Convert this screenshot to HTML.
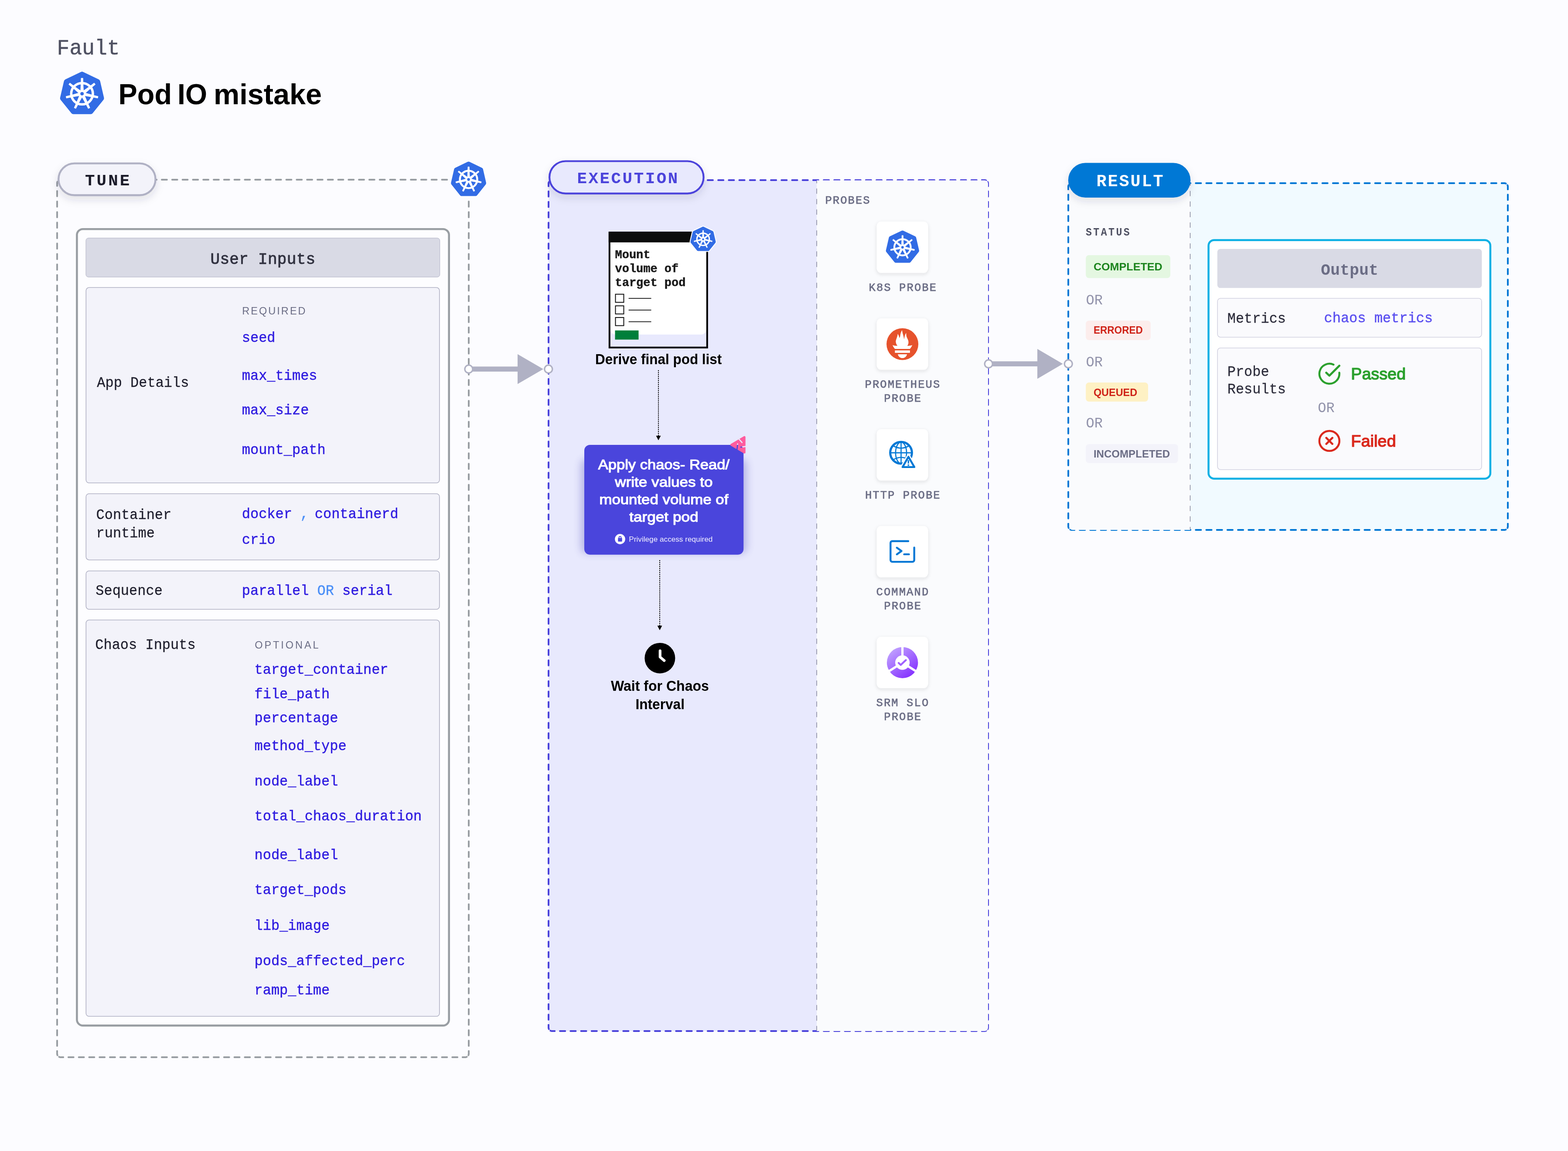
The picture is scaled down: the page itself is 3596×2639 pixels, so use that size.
<!DOCTYPE html>
<html lang="en"><head><meta charset="utf-8"><title>Pod IO mistake</title>
<style>
html,body{margin:0;padding:0;background:#fcfcff;}
body{width:3596px;height:2639px;overflow:hidden;position:relative}
svg{display:block;position:absolute;left:0;top:0;will-change:transform}
.m{font-family:"Liberation Mono","DejaVu Sans Mono",monospace}
.s{font-family:"Liberation Sans","DejaVu Sans",sans-serif}
text{white-space:pre}
</style></head>
<body>
<svg width="3596" height="2639" viewBox="0 0 3596 2639">
<defs>
<symbol id="k8s" viewBox="-56 -57 112 112" preserveAspectRatio="none" overflow="visible"><polygon points="0.00,-44.90 35.10,-27.99 43.77,9.99 19.48,40.45 -19.48,40.45 -43.77,9.99 -35.10,-27.99" fill="#fff" stroke="#fff" stroke-width="19" stroke-linejoin="round"/><polygon points="0.00,-44.90 35.10,-27.99 43.77,9.99 19.48,40.45 -19.48,40.45 -43.77,9.99 -35.10,-27.99" fill="#326ce5" stroke="#326ce5" stroke-width="12" stroke-linejoin="round"/><circle cx="0" cy="-0.4" r="24.5" fill="none" stroke="#fff" stroke-width="5.5"/><polygon points="3.30,-4.40 2.30,-22.40 1.90,-36.00 -1.90,-36.00 -2.30,-22.40 -3.30,-4.40" fill="#fff" stroke="#fff" stroke-width="1.2" stroke-linejoin="round"/><polygon points="5.18,-0.31 18.63,-12.32 29.80,-21.73 27.43,-24.71 15.77,-15.91 1.07,-5.47" fill="#fff" stroke="#fff" stroke-width="1.2" stroke-linejoin="round"/><polygon points="3.17,3.71 20.94,6.74 35.26,9.60 36.11,5.89 21.96,2.25 4.63,-2.73" fill="#fff" stroke="#fff" stroke-width="1.2" stroke-linejoin="round"/><polygon points="-1.24,4.64 7.47,20.42 14.17,33.40 17.59,31.75 11.62,18.42 4.71,1.77" fill="#fff" stroke="#fff" stroke-width="1.2" stroke-linejoin="round"/><polygon points="-4.71,1.77 -11.62,18.42 -17.59,31.75 -14.17,33.40 -7.47,20.42 1.24,4.64" fill="#fff" stroke="#fff" stroke-width="1.2" stroke-linejoin="round"/><polygon points="-4.63,-2.73 -21.96,2.25 -36.11,5.89 -35.26,9.60 -20.94,6.74 -3.17,3.71" fill="#fff" stroke="#fff" stroke-width="1.2" stroke-linejoin="round"/><polygon points="-1.07,-5.47 -15.77,-15.91 -27.43,-24.71 -29.80,-21.73 -18.63,-12.32 -5.18,-0.31" fill="#fff" stroke="#fff" stroke-width="1.2" stroke-linejoin="round"/><circle cx="0" cy="-0.4" r="7" fill="#fff"/><circle cx="0" cy="-0.4" r="3.9" fill="#326ce5"/></symbol>
<filter id="shPill" x="-20%" y="-40%" width="140%" height="220%"><feDropShadow dx="0" dy="8" stdDeviation="9" flood-color="#28293d" flood-opacity="0.13"/></filter>
<filter id="shCard" x="-30%" y="-30%" width="160%" height="170%"><feDropShadow dx="0" dy="3" stdDeviation="4" flood-color="#28293d" flood-opacity="0.12"/></filter>
<filter id="shBox" x="-20%" y="-20%" width="140%" height="140%"><feGaussianBlur stdDeviation="9"/></filter>
<linearGradient id="srmG" x1="0.15" y1="0.1" x2="0.8" y2="0.95"><stop offset="0" stop-color="#bf9fff"/><stop offset="1" stop-color="#8430ff"/></linearGradient>
<mask id="triM" maskUnits="userSpaceOnUse" x="1660" y="990" width="70" height="60">
<rect x="1660" y="990" width="70" height="60" fill="#fff"/>
<g stroke="#000" stroke-width="2.6" stroke-linecap="round" fill="none">
<path d="M1693.6 1005.5 L1701.8 1014.6"/>
<path d="M1712 1023.4 L1698.6 1025.2"/>
<path d="M1690.2 1031 L1691.6 1017.8"/>
</g>
</mask>
</defs>
<rect width="3596" height="2639" fill="#fcfcff"/>

<text transform="translate(130.6 125.3) scale(0.9524 1)" class="m" font-size="50.4" fill="#4f5162" stroke="#4f5162" stroke-width="0.6" stroke-linejoin="round">Fault</text>
<use href="#k8s" x="131.39" y="158.30" width="113.52" height="111.94"/>
<text y="238.8" class="s" font-size="67" font-weight="700" fill="#000"><tspan x="271.5" textLength="122.5" lengthAdjust="spacingAndGlyphs">Pod</tspan> <tspan x="407" textLength="68" lengthAdjust="spacingAndGlyphs">IO</tspan> <tspan x="490" textLength="248" lengthAdjust="spacingAndGlyphs">mistake</tspan></text>
<line x1="139" y1="412" x2="1067" y2="412" stroke="#999ea3" stroke-width="4" stroke-dasharray="11.8974 11.8974" stroke-dashoffset="-17.8462" stroke-linecap="round" fill="none"/>
<line x1="139" y1="2424" x2="1067" y2="2424" stroke="#999ea3" stroke-width="4" stroke-dasharray="11.8974 11.8974" stroke-dashoffset="-17.8462" stroke-linecap="round" fill="none"/>
<line x1="131" y1="420" x2="131" y2="2416" stroke="#999ea3" stroke-width="4" stroke-dasharray="12.0241 12.0241" stroke-dashoffset="-18.0361" stroke-linecap="round" fill="none"/>
<line x1="1075" y1="420" x2="1075" y2="2416" stroke="#999ea3" stroke-width="4" stroke-dasharray="12.0241 12.0241" stroke-dashoffset="-18.0361" stroke-linecap="round" fill="none"/>
<g fill="none" stroke="#999ea3" stroke-width="4" stroke-linecap="round"><path d="M131.00 426.01 V420.00 A8 8 0 0 1 131.81 416.49"/><path d="M144.95 412.00 H139.00 A8 8 0 0 0 135.49 412.81"/><path d="M1075.00 426.01 V420.00 A8 8 0 0 0 1074.19 416.49"/><path d="M1061.05 412.00 H1067.00 A8 8 0 0 1 1070.51 412.81"/><path d="M1075.00 2409.99 V2416.00 A8 8 0 0 1 1074.19 2419.51"/><path d="M1061.05 2424.00 H1067.00 A8 8 0 0 0 1070.51 2423.19"/><path d="M131.00 2409.99 V2416.00 A8 8 0 0 0 131.81 2419.51"/><path d="M144.95 2424.00 H139.00 A8 8 0 0 1 135.49 2423.19"/></g>
<rect x="134.2" y="374.6" width="222.4" height="72.9" rx="36.45" fill="#f3f3fa" stroke="#b0b1c4" stroke-width="4.4" filter="url(#shPill)"/>
<text x="195" y="424.6" class="m" font-size="37.5" fill="#1b1b29" font-weight="700" letter-spacing="4.1">TUNE</text>
<rect x="1028" y="400" width="94" height="59" fill="#fcfcff"/>
<use href="#k8s" x="1029.15" y="365.55" width="90.91" height="90.88"/>
<rect x="176.4" y="525.2" width="853.3" height="1826.2" rx="13.7" fill="#fdfdff" stroke="#999ea3" stroke-width="4.6"/>
<rect x="197" y="545.8" width="811.7" height="89.4" rx="6" fill="#d9dae5" stroke="#b0b1c4" stroke-width="1"/>
<text transform="translate(603 605) scale(0.9615 1)" class="m" font-size="37.44" fill="#30313f" letter-spacing="0.31" text-anchor="middle" stroke="#30313f" stroke-width="0.9" stroke-linejoin="round">User Inputs</text>
<rect x="197.3" y="659.3" width="810.6" height="448.0" rx="7" fill="#f3f3fa" stroke="#b0b1c4" stroke-width="1.6"/>
<rect x="197.3" y="1132" width="810.6" height="151.7" rx="7" fill="#f3f3fa" stroke="#b0b1c4" stroke-width="1.6"/>
<rect x="197.3" y="1309" width="810.6" height="88.0" rx="7" fill="#f3f3fa" stroke="#b0b1c4" stroke-width="1.6"/>
<rect x="197.3" y="1421.5" width="810.6" height="908.8" rx="7" fill="#f3f3fa" stroke="#b0b1c4" stroke-width="1.6"/>
<text x="555.2" y="720.8" class="s" font-size="23.5" fill="#6b6d85" letter-spacing="3.05">REQUIRED</text>
<text transform="translate(554.8 784.3) scale(0.9615 1)" class="m" font-size="33.28" fill="#2e1be0" stroke="#2e1be0" stroke-width="0.45" stroke-linejoin="round">seed</text>
<text transform="translate(554.8 871.0) scale(0.9615 1)" class="m" font-size="33.28" fill="#2e1be0" stroke="#2e1be0" stroke-width="0.45" stroke-linejoin="round">max_times</text>
<text transform="translate(554.8 950.3) scale(0.9615 1)" class="m" font-size="33.28" fill="#2e1be0" stroke="#2e1be0" stroke-width="0.45" stroke-linejoin="round">max_size</text>
<text transform="translate(554.8 1040.5) scale(0.9615 1)" class="m" font-size="33.28" fill="#2e1be0" stroke="#2e1be0" stroke-width="0.45" stroke-linejoin="round">mount_path</text>
<text transform="translate(222.3 887.2) scale(0.9615 1)" class="m" font-size="33.28" fill="#1d1d2b" stroke="#1d1d2b" stroke-width="0.25" stroke-linejoin="round">App Details</text>
<text transform="translate(220.5 1190.1) scale(0.9615 1)" class="m" font-size="33.28" fill="#1d1d2b" stroke="#1d1d2b" stroke-width="0.25" stroke-linejoin="round">Container</text>
<text transform="translate(220.5 1232.1) scale(0.9615 1)" class="m" font-size="33.28" fill="#1d1d2b" stroke="#1d1d2b" stroke-width="0.25" stroke-linejoin="round">runtime</text>
<text transform="translate(554.8 1188.2) scale(0.9615 1)" class="m" font-size="33.28" fill="#2e1be0" stroke="#2e1be0" stroke-width="0.45" stroke-linejoin="round">docker</text>
<text transform="translate(688.5 1188.2) scale(0.9615 1)" class="m" font-size="33.28" fill="#4b8ff7" stroke="#4b8ff7" stroke-width="0.45" stroke-linejoin="round">,</text>
<text transform="translate(721.8 1188.2) scale(0.9615 1)" class="m" font-size="33.28" fill="#2e1be0" stroke="#2e1be0" stroke-width="0.45" stroke-linejoin="round">containerd</text>
<text transform="translate(554.8 1247.0) scale(0.9615 1)" class="m" font-size="33.28" fill="#2e1be0" stroke="#2e1be0" stroke-width="0.45" stroke-linejoin="round">crio</text>
<text transform="translate(219.3 1364.3) scale(0.9615 1)" class="m" font-size="33.28" fill="#1d1d2b" stroke="#1d1d2b" stroke-width="0.25" stroke-linejoin="round">Sequence</text>
<text transform="translate(554.8 1363.6) scale(0.9615 1)" class="m" font-size="33.28" fill="#2e1be0" stroke="#2e1be0" stroke-width="0.45">parallel <tspan fill="#4b8ff7" stroke="#4b8ff7">OR</tspan> serial</text>
<text transform="translate(218.3 1488) scale(0.9615 1)" class="m" font-size="33.28" fill="#1d1d2b" stroke="#1d1d2b" stroke-width="0.25" stroke-linejoin="round">Chaos Inputs</text>
<text x="584.2" y="1487.4" class="s" font-size="23.5" fill="#6b6d85" letter-spacing="3.95">OPTIONAL</text>
<text transform="translate(583.5 1544.8) scale(0.9615 1)" class="m" font-size="33.28" fill="#2e1be0" stroke="#2e1be0" stroke-width="0.45" stroke-linejoin="round">target_container</text>
<text transform="translate(583.5 1600.5) scale(0.9615 1)" class="m" font-size="33.28" fill="#2e1be0" stroke="#2e1be0" stroke-width="0.45" stroke-linejoin="round">file_path</text>
<text transform="translate(583.5 1656.1) scale(0.9615 1)" class="m" font-size="33.28" fill="#2e1be0" stroke="#2e1be0" stroke-width="0.45" stroke-linejoin="round">percentage</text>
<text transform="translate(583.5 1720.3) scale(0.9615 1)" class="m" font-size="33.28" fill="#2e1be0" stroke="#2e1be0" stroke-width="0.45" stroke-linejoin="round">method_type</text>
<text transform="translate(583.5 1801.4) scale(0.9615 1)" class="m" font-size="33.28" fill="#2e1be0" stroke="#2e1be0" stroke-width="0.45" stroke-linejoin="round">node_label</text>
<text transform="translate(583.5 1880.8) scale(0.9615 1)" class="m" font-size="33.28" fill="#2e1be0" stroke="#2e1be0" stroke-width="0.45" stroke-linejoin="round">total_chaos_duration</text>
<text transform="translate(583.5 1969.6) scale(0.9615 1)" class="m" font-size="33.28" fill="#2e1be0" stroke="#2e1be0" stroke-width="0.45" stroke-linejoin="round">node_label</text>
<text transform="translate(583.5 2050.4) scale(0.9615 1)" class="m" font-size="33.28" fill="#2e1be0" stroke="#2e1be0" stroke-width="0.45" stroke-linejoin="round">target_pods</text>
<text transform="translate(583.5 2131.8) scale(0.9615 1)" class="m" font-size="33.28" fill="#2e1be0" stroke="#2e1be0" stroke-width="0.45" stroke-linejoin="round">lib_image</text>
<text transform="translate(583.5 2213.0) scale(0.9615 1)" class="m" font-size="33.28" fill="#2e1be0" stroke="#2e1be0" stroke-width="0.45" stroke-linejoin="round">pods_affected_perc</text>
<text transform="translate(583.5 2279.7) scale(0.9615 1)" class="m" font-size="33.28" fill="#2e1be0" stroke="#2e1be0" stroke-width="0.45" stroke-linejoin="round">ramp_time</text>
<path d="M1266 412.9 H1873 V2364 H1266 a8 8 0 0 1 -8 -8 V420.9 a8 8 0 0 1 8 -8 Z" fill="#e8e9fd"/>
<line x1="1266" y1="412.9" x2="2258" y2="412.9" stroke="#4b43db" stroke-width="4" stroke-dasharray="12.0976 12.0976" stroke-dashoffset="-18.1463" stroke-linecap="round" fill="none"/>
<line x1="1266" y1="2364" x2="2258" y2="2364" stroke="#4b43db" stroke-width="4" stroke-dasharray="12.0976 12.0976" stroke-dashoffset="-18.1463" stroke-linecap="round" fill="none"/>
<line x1="1258" y1="420.9" x2="1258" y2="2356" stroke="#4b43db" stroke-width="4" stroke-dasharray="11.9451 11.9451" stroke-dashoffset="-17.9176" stroke-linecap="round" fill="none"/>
<line x1="2266" y1="420.9" x2="2266" y2="2356" stroke="#4b43db" stroke-width="4" stroke-dasharray="11.9451 11.9451" stroke-dashoffset="-17.9176" stroke-linecap="round" fill="none"/>
<g fill="none" stroke="#4b43db" stroke-width="4" stroke-linecap="round"><path d="M1258.00 426.87 V420.90 A8 8 0 0 1 1258.81 417.39"/><path d="M1272.05 412.90 H1266.00 A8 8 0 0 0 1262.49 413.71"/><path d="M2266.00 426.87 V420.90 A8 8 0 0 0 2265.19 417.39"/><path d="M2251.95 412.90 H2258.00 A8 8 0 0 1 2261.51 413.71"/><path d="M2266.00 2350.03 V2356.00 A8 8 0 0 1 2265.19 2359.51"/><path d="M2251.95 2364.00 H2258.00 A8 8 0 0 0 2261.51 2363.19"/><path d="M1258.00 2350.03 V2356.00 A8 8 0 0 0 1258.81 2359.51"/><path d="M1272.05 2364.00 H1266.00 A8 8 0 0 1 1262.49 2363.19"/></g>
<path d="M1873 413.4 H2258 a8 7.5 0 0 1 8 7.5 V2356 a8 8 0 0 1 -8 8 H1873 Z" fill="#fafbfd"/>
<line x1="1873" y1="414.9" x2="1873" y2="2363" stroke="#8f90a6" stroke-width="1.7" stroke-dasharray="12.000 12.000" stroke-dashoffset="6.600" stroke-linecap="butt" fill="none"/>
<rect x="1260.1" y="369.5" width="353.5" height="74.1" rx="37" fill="#e8e9fd" stroke="#4b43db" stroke-width="4.2" filter="url(#shPill)"/>
<text x="1323.4" y="420" class="m" font-size="37.5" fill="#4b43db" font-weight="700" letter-spacing="3.55">EXECUTION</text>
<rect x="1397.8" y="533.2" width="224" height="263.6" fill="#fff"/>
<path d="M1397.8 754 H1621.8 V796.8 H1397.8 Z" fill="#e8e9fd"/>
<path d="M1399.6 750 V755 a12 12 0 0 0 12 12 H1608 a12 12 0 0 0 12 -12 V750 Z" fill="#fff"/>
<rect x="1397.8" y="533.2" width="224" height="263.6" fill="none" stroke="#000" stroke-width="4"/>
<rect x="1395.8" y="531.2" width="228" height="24.5" fill="#0b0c0c"/>
<rect x="1410.5" y="757.6" width="54" height="21" fill="#007f3b"/>
<rect x="1411.5" y="674.6" width="19" height="18.6" fill="#fff" stroke="#111" stroke-width="2"/>
<line x1="1441.6" y1="684.2" x2="1493.5" y2="684.2" stroke="#111" stroke-width="1.7"/>
<rect x="1411.5" y="701.2" width="19" height="18.6" fill="#fff" stroke="#111" stroke-width="2"/>
<line x1="1441.6" y1="710.8000000000001" x2="1493.5" y2="710.8000000000001" stroke="#111" stroke-width="1.7"/>
<rect x="1411.5" y="728" width="19" height="18.6" fill="#fff" stroke="#111" stroke-width="2"/>
<line x1="1441.6" y1="737.6" x2="1493.5" y2="737.6" stroke="#111" stroke-width="1.7"/>
<text transform="translate(1410.5 591.9) scale(0.9615 1)" class="m" font-size="28.08" fill="#1a1a1a" font-weight="700" stroke="#1a1a1a" stroke-width="0.5" stroke-linejoin="round">Mount</text>
<text transform="translate(1410.5 624) scale(0.9615 1)" class="m" font-size="28.08" fill="#1a1a1a" font-weight="700" stroke="#1a1a1a" stroke-width="0.5" stroke-linejoin="round">volume of</text>
<text transform="translate(1410.5 655.7) scale(0.9615 1)" class="m" font-size="28.08" fill="#1a1a1a" font-weight="700" stroke="#1a1a1a" stroke-width="0.5" stroke-linejoin="round">target pod</text>
<use href="#k8s" x="1579.87" y="516.09" width="65.26" height="64.42"/>
<text x="1510.2" y="834.9" class="s" font-size="32.3" fill="#000" font-weight="700" text-anchor="middle" textLength="290.3" lengthAdjust="spacingAndGlyphs">Derive final pod list</text>
<line x1="1510" y1="848.8" x2="1510" y2="1000.4" stroke="#000" stroke-width="2" stroke-dasharray="2.5 2"/>
<polygon points="1504.6,998.9 1515.4,998.9 1510,1009.4" fill="#000"/>
<line x1="1513" y1="1284.2" x2="1513" y2="1436" stroke="#000" stroke-width="2" stroke-dasharray="2.5 2"/>
<polygon points="1507.6,1434.5 1518.4,1434.5 1513,1445" fill="#000"/>
<rect x="1332" y="1052" width="381" height="217" rx="14" fill="#2f2aa8" opacity="0.27" filter="url(#shBox)"/>
<rect x="1340" y="1020" width="365.2" height="251.7" rx="13" fill="#4a45dc"/>
<text x="1522.4" y="1075.9" class="s" font-size="32" fill="#fff" text-anchor="middle" textLength="301.3" lengthAdjust="spacingAndGlyphs" stroke="#fff" stroke-width="1.25" stroke-linejoin="round">Apply chaos- Read/</text>
<text x="1522.4" y="1115.8" class="s" font-size="32" fill="#fff" text-anchor="middle" textLength="224.2" lengthAdjust="spacingAndGlyphs" stroke="#fff" stroke-width="1.25" stroke-linejoin="round">write values to</text>
<text x="1522.4" y="1155.7" class="s" font-size="32" fill="#fff" text-anchor="middle" textLength="296" lengthAdjust="spacingAndGlyphs" stroke="#fff" stroke-width="1.25" stroke-linejoin="round">mounted volume of</text>
<text x="1522.4" y="1195.6" class="s" font-size="32" fill="#fff" text-anchor="middle" textLength="158.2" lengthAdjust="spacingAndGlyphs" stroke="#fff" stroke-width="1.25" stroke-linejoin="round">target pod</text>
<circle cx="1422" cy="1236" r="11.8" fill="#fff"/>
<rect x="1417.3" y="1233.4" width="9.4" height="8.4" rx="1" fill="#4a45dc"/>
<path d="M1419.5 1234 v-1.6 a2.5 2.5 0 0 1 5 0 v1.6" fill="none" stroke="#4a45dc" stroke-width="1.7"/>
<text x="1442.3" y="1242.2" class="s" font-size="16.5" fill="#f0efff" textLength="192" lengthAdjust="spacingAndGlyphs">Privilege access required</text>
<path d="M1677.5 1019.8 L1707.2 1002.4 L1707.2 1037.3 Z" fill="#ff5c9e" stroke="#ff5c9e" stroke-width="5" stroke-linejoin="round" mask="url(#triM)"/>
<circle cx="1513.4" cy="1508.9" r="35" fill="#000"/>
<path d="M1513.8 1492 V1506.5 L1523.3 1514.6" fill="none" stroke="#fff" stroke-width="6.2" stroke-linecap="round" stroke-linejoin="round"/>
<text x="1513.4" y="1584.3" class="s" font-size="32.3" fill="#000" font-weight="700" text-anchor="middle" textLength="225" lengthAdjust="spacingAndGlyphs">Wait for Chaos</text>
<text x="1513.7" y="1626.3" class="s" font-size="32.3" fill="#000" font-weight="700" text-anchor="middle" textLength="112.5" lengthAdjust="spacingAndGlyphs">Interval</text>
<text x="1892.4" y="467.3" class="m" font-size="25.5" fill="#6b6d85" letter-spacing="2.08" stroke="#6b6d85" stroke-width="0.75" stroke-linejoin="round">PROBES</text>
<rect x="2010.6" y="508" width="117.8" height="117.8" rx="10.5" fill="#fff" filter="url(#shCard)"/>
<rect x="2010.6" y="730" width="117.8" height="117.8" rx="10.5" fill="#fff" filter="url(#shCard)"/>
<rect x="2010.6" y="984" width="117.8" height="117.8" rx="10.5" fill="#fff" filter="url(#shCard)"/>
<rect x="2010.6" y="1206" width="117.8" height="117.8" rx="10.5" fill="#fff" filter="url(#shCard)"/>
<rect x="2010.6" y="1460" width="117.8" height="117.8" rx="10.5" fill="#fff" filter="url(#shCard)"/>
<use href="#k8s" x="2026.93" y="523.86" width="85.73" height="85.25"/>
<text x="1992.6" y="667.2" class="m" font-size="25.5" fill="#6b6d85" letter-spacing="2.08" stroke="#6b6d85" stroke-width="0.75" stroke-linejoin="round">K8S PROBE</text>
<circle cx="2069.6" cy="789" r="36.5" fill="#e6522c"/>
<g transform="translate(2069.6 789)" fill="#fff"><path d="M-0.7 -32 C-3.5 -28 -4.6 -24 -5 -19.5 C-5.3 -17 -6 -15.3 -7.1 -13.9 C-7.6 -17.5 -8.8 -21 -10.9 -23.4 C-11 -19.5 -12.2 -16.6 -13.2 -13.7 C-14.5 -10 -15.6 -7.4 -15.1 -4.4 C-14.7 -1.2 -13.4 1.4 -11.4 3.7 C-15.2 3.9 -19 3.3 -22.7 2.2 C-21.4 5.4 -19.6 8.3 -17.1 10.9 H17.1 C19.5 8.3 21.3 5.4 22.6 2.2 C19 3.4 15.2 4 11.2 3.9 C12.8 1.6 13.9 -1.1 13.9 -3.8 C13.9 -6.2 13.4 -8.3 12.6 -10.3 C11.3 -13.4 9.5 -16.2 9 -19.6 C8.7 -21.6 8.6 -23.6 8.8 -25.7 C6.8 -23.5 5.8 -20.7 5.2 -18 C4.7 -15.7 4.3 -13.3 3.8 -10.9 C3.4 -14.3 2.6 -17.6 1.7 -20.8 C0.7 -24.3 -0.5 -28 -0.7 -32 Z"/><rect x="-17.2" y="14.4" width="34.4" height="5.6"/><path d="M-10.5 23.2 H10.5 C9.2 28.7 5 32 0 32 C-5 32 -9.2 28.7 -10.5 23.2 Z"/></g>
<text x="1983.5" y="888.9" class="m" font-size="25.5" fill="#6b6d85" letter-spacing="2.08" stroke="#6b6d85" stroke-width="0.75" stroke-linejoin="round">PROMETHEUS</text>
<text x="2027.3" y="921.2" class="m" font-size="25.5" fill="#6b6d85" letter-spacing="2.08" stroke="#6b6d85" stroke-width="0.75" stroke-linejoin="round">PROBE</text>
<g fill="none" stroke="#0278d5"><circle cx="2066.5" cy="1038.1" r="24.9" stroke-width="5"/><g stroke-width="2.6"><line x1="2066.5" y1="1014" x2="2066.5" y2="1062"/><line x1="2042" y1="1038.1" x2="2091" y2="1038.1"/><ellipse cx="2066.5" cy="1038.1" rx="12.6" ry="24.4"/><path d="M2049 1022.5 Q2066.5 1032.5 2084 1022.5"/><path d="M2049 1053.7 Q2066.5 1043.7 2084 1053.7"/></g></g>
<path d="M2083.4 1047.3 L2097 1070.9 H2069.9 Z" fill="#fff" stroke="#fff" stroke-width="9.5" stroke-linejoin="round"/>
<path d="M2083.4 1047.3 L2097 1070.9 H2069.9 Z" fill="#fff" stroke="#0278d5" stroke-width="4.4" stroke-linejoin="round"/>
<line x1="2083.3" y1="1055" x2="2083.3" y2="1062.8" stroke="#0278d5" stroke-width="3.2"/><circle cx="2083.3" cy="1066.3" r="1.9" fill="#0278d5"/>
<text x="1983.9" y="1142.8" class="m" font-size="25.5" fill="#6b6d85" letter-spacing="2.08" stroke="#6b6d85" stroke-width="0.75" stroke-linejoin="round">HTTP PROBE</text>
<g fill="none" stroke="#0278d5" stroke-width="4.4" stroke-linecap="round" stroke-linejoin="round"><path d="M2083 1240.7 H2046.3 a4 4 0 0 0 -4 4 V1284.1 a4 4 0 0 0 4 4 H2092.7 a4 4 0 0 0 4 -4 V1255.4"/><path d="M2056.9 1255.8 L2067.4 1263.4 L2056.9 1271"/><path d="M2073.6 1270.9 H2084.5"/></g>
<text x="2009.6" y="1365.2" class="m" font-size="25.5" fill="#6b6d85" letter-spacing="2.08" stroke="#6b6d85" stroke-width="0.75" stroke-linejoin="round">COMMAND</text>
<text x="2027.3" y="1397.3" class="m" font-size="25.5" fill="#6b6d85" letter-spacing="2.08" stroke="#6b6d85" stroke-width="0.75" stroke-linejoin="round">PROBE</text>
<circle cx="2069.6" cy="1519.2" r="35.7" fill="url(#srmG)"/>
<g stroke="#fff" stroke-width="5.2"><line x1="2069.6" y1="1519.2" x2="2069.60" y2="1479.20"/><line x1="2069.6" y1="1519.2" x2="2103.34" y2="1540.69"/><line x1="2069.6" y1="1519.2" x2="2035.86" y2="1540.69"/></g>
<circle cx="2069.6" cy="1519.2" r="16.6" fill="#fff"/>
<path d="M2060.9 1519.9 L2065.6 1524.6000000000001 L2077.6 1513.4" fill="none" stroke="#a060ff" stroke-width="4.2" stroke-linecap="round" stroke-linejoin="round"/>
<text x="2009.6" y="1619.1" class="m" font-size="25.5" fill="#6b6d85" letter-spacing="2.08" stroke="#6b6d85" stroke-width="0.75" stroke-linejoin="round">SRM SLO</text>
<text x="2027.3" y="1651.2" class="m" font-size="25.5" fill="#6b6d85" letter-spacing="2.08" stroke="#6b6d85" stroke-width="0.75" stroke-linejoin="round">PROBE</text>
<path d="M2729.6 420 H3448 a10 10 0 0 1 10 10 V1205.06 a10 10 0 0 1 -10 10 H2729.6 Z" fill="#f1faff"/>
<line x1="2458" y1="420" x2="3450" y2="420" stroke="#0278d5" stroke-width="4" stroke-dasharray="12.0976 12.0976" stroke-dashoffset="-18.1463" stroke-linecap="round" fill="none"/>
<line x1="2458" y1="1215.06" x2="3450" y2="1215.06" stroke="#0278d5" stroke-width="4" stroke-dasharray="12.0976 12.0976" stroke-dashoffset="-18.1463" stroke-linecap="round" fill="none"/>
<line x1="2450" y1="428" x2="2450" y2="1207.06" stroke="#0278d5" stroke-width="4" stroke-dasharray="12.1728 12.1728" stroke-dashoffset="-18.2592" stroke-linecap="round" fill="none"/>
<line x1="3458" y1="428" x2="3458" y2="1207.06" stroke="#0278d5" stroke-width="4" stroke-dasharray="12.1728 12.1728" stroke-dashoffset="-18.2592" stroke-linecap="round" fill="none"/>
<g fill="none" stroke="#0278d5" stroke-width="4" stroke-linecap="round"><path d="M2450.00 434.09 V428.00 A8 8 0 0 1 2450.81 424.49"/><path d="M2464.05 420.00 H2458.00 A8 8 0 0 0 2454.49 420.81"/><path d="M3458.00 434.09 V428.00 A8 8 0 0 0 3457.19 424.49"/><path d="M3443.95 420.00 H3450.00 A8 8 0 0 1 3453.51 420.81"/><path d="M3458.00 1200.97 V1207.06 A8 8 0 0 1 3457.19 1210.57"/><path d="M3443.95 1215.06 H3450.00 A8 8 0 0 0 3453.51 1214.25"/><path d="M2450.00 1200.97 V1207.06 A8 8 0 0 0 2450.81 1210.57"/><path d="M2464.05 1215.06 H2458.00 A8 8 0 0 1 2454.49 1214.25"/></g>
<path d="M2452 420 H2729.6 V1215.06 H2460 a8 8 0 0 1 -8 -8 Z" fill="#fafbfd"/>
<line x1="2729.5" y1="422" x2="2729.5" y2="1214.06" stroke="#6b6d85" stroke-width="1.2" stroke-dasharray="12.035 12.035" stroke-dashoffset="8.370" stroke-linecap="butt" fill="none"/>
<rect x="2449.8" y="373.6" width="280.5" height="79.3" rx="39.6" fill="#0278d5" filter="url(#shPill)"/>
<text x="2514.6" y="427.4" class="m" font-size="38.5" fill="#fff" font-weight="700" letter-spacing="2.9">RESULT</text>
<text transform="translate(2490 539.8) scale(0.8900 1)" class="m" font-size="26" fill="#4f5162" font-weight="700" letter-spacing="3.9">STATUS</text>
<rect x="2490.2" y="585" width="193.8" height="52.6" rx="7" fill="#e4f7e1"/>
<text x="2507.9" y="619.9" class="s" font-size="24.5" fill="#1b841d" font-weight="700" textLength="157.8" lengthAdjust="spacingAndGlyphs">COMPLETED</text>
<rect x="2490.2" y="735.3" width="148.6" height="44.4" rx="7" fill="#fcedec"/>
<text x="2507.9" y="765.4" class="s" font-size="24.5" fill="#cf2318" font-weight="700" textLength="113.0" lengthAdjust="spacingAndGlyphs">ERRORED</text>
<rect x="2490.2" y="877.1" width="142.8" height="43.6" rx="7" fill="#fef1c4"/>
<text x="2507.9" y="907.9" class="s" font-size="24.5" fill="#cf2318" font-weight="700" textLength="100.2" lengthAdjust="spacingAndGlyphs">QUEUED</text>
<rect x="2490.2" y="1018.3" width="211.4" height="43.5" rx="7" fill="#f3f3fa"/>
<text x="2507.9" y="1048.8" class="s" font-size="24.5" fill="#6b6d85" font-weight="700" textLength="175.2" lengthAdjust="spacingAndGlyphs">INCOMPLETED</text>
<text transform="translate(2490.6 698.2) scale(0.9524 1)" class="m" font-size="33.6" fill="#9293ab">OR</text>
<text transform="translate(2490.6 839.8) scale(0.9524 1)" class="m" font-size="33.6" fill="#9293ab">OR</text>
<text transform="translate(2490.6 980.4) scale(0.9524 1)" class="m" font-size="33.6" fill="#9293ab">OR</text>
<rect x="2771.6" y="550.4" width="646.3" height="547" rx="13" fill="#fff" stroke="#0ab0e4" stroke-width="4.5"/>
<rect x="2791.8" y="570.7" width="606.6" height="89.6" rx="7" fill="#d9dae5"/>
<text transform="translate(3095.2 629.7) scale(0.9615 1)" class="m" font-size="37.44" fill="#6b6d85" font-weight="700" letter-spacing="0.42" text-anchor="middle">Output</text>
<rect x="2792.2" y="684" width="605.8" height="89.2" rx="7" fill="#fafafd" stroke="#d2d2e1" stroke-width="1.6"/>
<rect x="2792.2" y="797.7" width="605.8" height="279.1" rx="7" fill="#fafafd" stroke="#d2d2e1" stroke-width="1.6"/>
<text transform="translate(2814.7 740.4) scale(0.9615 1)" class="m" font-size="33.28" fill="#2b2b3a" stroke="#2b2b3a" stroke-width="0.25" stroke-linejoin="round">Metrics</text>
<text transform="translate(3036.5 739.4) scale(0.9615 1)" class="m" font-size="33.28" fill="#5a4ff0" stroke="#5a4ff0" stroke-width="0.45" stroke-linejoin="round">chaos metrics</text>
<text transform="translate(2814.7 861.6) scale(0.9615 1)" class="m" font-size="33.28" fill="#2b2b3a" stroke="#2b2b3a" stroke-width="0.25" stroke-linejoin="round">Probe</text>
<text transform="translate(2814.7 902) scale(0.9615 1)" class="m" font-size="33.28" fill="#2b2b3a" stroke="#2b2b3a" stroke-width="0.25" stroke-linejoin="round">Results</text>
<path d="M3058.22 835.95 A22.9 22.9 0 1 0 3071.53 854.41" fill="none" stroke="#2ba02d" stroke-width="4.5" stroke-linecap="round"/>
<path d="M3041.5 854.5 L3048.7 861.3 L3071.6 838.5" fill="none" stroke="#2ba02d" stroke-width="4.7" stroke-linecap="round" stroke-linejoin="round"/>
<text x="3098.3" y="869.8" class="s" font-size="37.5" fill="#2ba02d" textLength="125.6" lengthAdjust="spacingAndGlyphs" stroke="#2ba02d" stroke-width="1.5" stroke-linejoin="round">Passed</text>
<text transform="translate(3022.3 945.3) scale(0.9524 1)" class="m" font-size="33.6" fill="#9293ab">OR</text>
<circle cx="3048.74" cy="1010.92" r="22.95" fill="none" stroke="#da291d" stroke-width="4.5"/>
<path d="M3041.7 1003.9 L3055.6 1017.8 M3055.6 1003.9 L3041.7 1017.8" fill="none" stroke="#da291d" stroke-width="4.7" stroke-linecap="round"/>
<text x="3098.3" y="1024.0" class="s" font-size="37.5" fill="#da291d" textLength="103.2" lengthAdjust="spacingAndGlyphs" stroke="#da291d" stroke-width="1.5" stroke-linejoin="round">Failed</text>
<rect x="1075" y="840.4000000000001" width="113" height="11.6" fill="#b0b1c4"/>
<polygon points="1187,811.9000000000001 1187,880.5 1246,846.2" fill="#b0b1c4"/>
<circle cx="1075" cy="846.2" r="9" fill="#fff" stroke="#b0b1c4" stroke-width="3.3"/>
<circle cx="1257.8" cy="846.2" r="9" fill="#fff" stroke="#b0b1c4" stroke-width="3.3"/>
<rect x="2267.2" y="828.4000000000001" width="112.80000000000018" height="11.6" fill="#b0b1c4"/>
<polygon points="2379,799.9000000000001 2379,868.5 2437.5,834.2" fill="#b0b1c4"/>
<circle cx="2267.2" cy="834.2" r="9" fill="#fff" stroke="#b0b1c4" stroke-width="3.3"/>
<circle cx="2450.2" cy="834.2" r="9" fill="#fff" stroke="#b0b1c4" stroke-width="3.3"/>
</svg>
</body></html>
